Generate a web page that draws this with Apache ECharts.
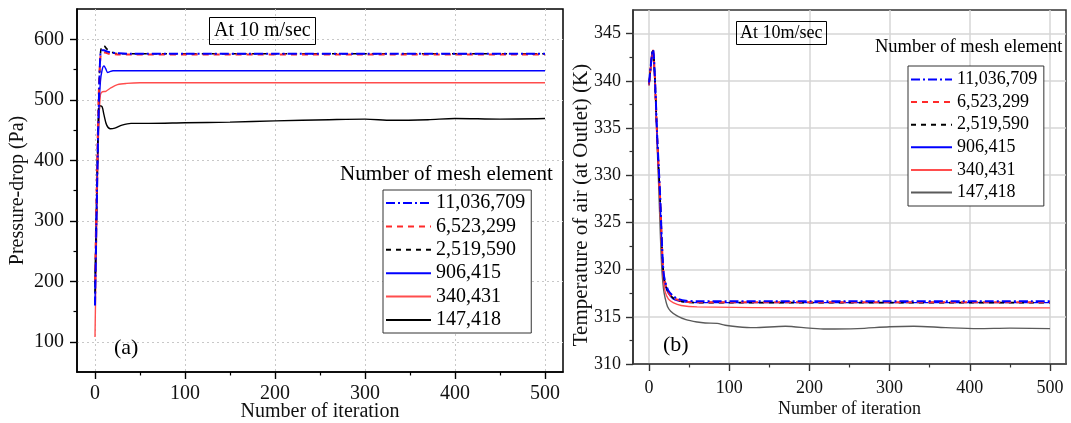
<!DOCTYPE html>
<html>
<head>
<meta charset="utf-8">
<script src="https://cdn.jsdelivr.net/npm/echarts@6.0.0/dist/echarts.min.js"></script>
<style>
html,body{margin:0;padding:0;background:#fff;}
#chart{width:1071px;height:423px;}
</style>
</head>
<body>
<div id="chart"></div>
<script>
// ---------- DATA ----------
const seriesNames = ['11,036,709', '6,523,299', '2,519,590', '906,415', '340,431', '147,418'];

// (a) Pressure-drop (Pa) vs iteration  [iteration, value]
const press_11036709 = [[0,160],[2,330],[4,480],[6,575],[8,582],[10,582],[13,580],[18,578],[25,577],[40,576],[100,576],[200,576],[300,576],[400,576],[500,576]];
const press_6523299  = [[0,200],[2,360],[4,500],[6,570],[8,578],[11,578],[16,576],[25,575],[40,575],[100,575],[300,575],[500,575]];
const press_2519590  = [[0,180],[2,340],[4,490],[6,575],[8,589],[10,589],[13,584],[17,580],[22,577],[30,576],[100,576],[300,576],[500,576]];
const press_906415   = [[0,165],[2,330],[4,470],[6,530],[8,550],[10,556],[12,551],[14,545],[16,546],[20,548],[30,548],[100,548],[300,548],[500,548]];
const press_340431   = [[0,108],[2,300],[4,450],[6,508],[8,513],[12,514],[18,520],[25,525],[35,527],[50,528],[100,528],[300,528],[500,528]];
const press_147418   = [[0,190],[2,350],[4,460],[6,490],[8,488],[10,475],[13,458],[17,452],[22,453],[30,458],[40,461],[60,461],[100,462],[150,463],[200,465],[260,467],[300,468],[330,466],[370,467],[400,469],[450,468],[500,469]];

// (b) Temperature of air at outlet (K) vs iteration
const temp_11036709 = [[0,339.8],[2,341.5],[4,343],[5,343.3],[6,342.6],[8,339],[10,334.5],[12,331],[14,327.5],[16,323],[18,319.8],[20,318.8],[24,317.8],[30,317.2],[36,316.9],[46,316.7],[60,316.65],[200,316.65],[500,316.65]];
const temp_6523299  = [[0,339.7],[2,341.4],[4,343],[5,343.2],[6,342.5],[8,338.8],[10,334.3],[12,330.8],[14,327.2],[16,322.8],[18,319.6],[20,318.6],[24,317.6],[30,317.0],[36,316.8],[46,316.6],[60,316.55],[200,316.55],[500,316.55]];
const temp_2519590  = [[0,339.7],[2,341.4],[4,343],[5,343.2],[6,342.5],[8,338.8],[10,334.3],[12,330.8],[14,327.2],[16,322.8],[18,319.6],[20,318.6],[24,317.6],[30,317.0],[36,316.75],[46,316.55],[60,316.5],[200,316.5],[500,316.5]];
const temp_906415   = [[0,339.6],[2,341.4],[4,343],[5,343.2],[6,342.4],[8,338.6],[10,334.2],[12,330.6],[14,327],[16,322.6],[18,319.4],[20,318.4],[24,317.5],[30,316.9],[36,316.7],[46,316.55],[60,316.5],[200,316.5],[500,316.5]];
const temp_340431   = [[0,339.5],[2,341.3],[4,342.9],[5,343.1],[6,342.3],[8,338.4],[10,333.8],[12,330],[14,326],[16,321.8],[18,318.9],[20,317.7],[24,316.9],[30,316.5],[40,316.2],[60,316.05],[200,315.95],[500,315.95]];
const temp_147418   = [[0,339.5],[2,341.3],[4,343],[5,343.2],[6,342.3],[8,338.5],[10,333.5],[12,329],[14,324],[16,320],[18,318],[20,317],[23,316.1],[27,315.6],[35,315.1],[46,314.7],[60,314.45],[70,314.35],[85,314.3],[95,314.1],[110,313.95],[130,313.85],[170,314.0],[200,313.8],[220,313.7],[260,313.75],[300,313.95],[330,314.0],[370,313.85],[410,313.75],[450,313.8],[500,313.75]];

// tick values
const xMajorTicks = [0, 100, 200, 300, 400, 500];
const xMinorTicks = [50, 150, 250, 350, 450];
const pressMajorTicks = [100, 200, 300, 400, 500, 600];
const pressMinorTicks = [150, 250, 350, 450, 550];
const tempMajorTicks = [310, 315, 320, 325, 330, 335, 340, 345];
const tempMinorTicks = [312.5, 317.5, 322.5, 327.5, 332.5, 337.5, 342.5];

// ---------- STYLE ----------
const FONT = '"Liberation Serif", "Times New Roman", serif';
const styles = {
  '11,036,709': {color: '#0000ff', type: [9, 3, 2, 3], width: 2},
  '6,523,299':  {color: '#ff2a2a', type: [6, 5], width: 2},
  '2,519,590':  {color: '#000000', type: [5, 5], width: 1.6},
  '906,415':    {color: '#0000ff', type: 'solid', width: 1.4},
  '340,431':    {color: '#ff4d4d', type: 'solid', width: 1.4},
  '147,418':    {color: '#000000', type: 'solid', width: 1.4}
};
const pressData = {
  '11,036,709': press_11036709, '6,523,299': press_6523299, '2,519,590': press_2519590,
  '906,415': press_906415, '340,431': press_340431, '147,418': press_147418
};
const tempData = {
  '11,036,709': temp_11036709, '6,523,299': temp_6523299, '2,519,590': temp_2519590,
  '906,415': temp_906415, '340,431': temp_340431, '147,418': temp_147418
};

// right chart uses a trailing space so that its legend is independent
const rightName = n => n + ' ';

const series = [];
const drawOrder = seriesNames.slice().reverse();
drawOrder.forEach(n => {
  const s = styles[n];
  series.push({
    name: n, type: 'line', xAxisIndex: 0, yAxisIndex: 0,
    data: pressData[n], symbol: 'none', showSymbol: false, smooth: 0.3,
    lineStyle: {color: s.color, type: s.type, width: s.width},
    itemStyle: {color: s.color}
  });
});
drawOrder.forEach(n => {
  const s = styles[n];
  const col = n === '147,418' ? '#5a5a5a' : s.color;
  series.push({
    name: rightName(n), type: 'line', xAxisIndex: 2, yAxisIndex: 2,
    data: tempData[n], symbol: 'none', showSymbol: false, smooth: 0.3,
    lineStyle: {color: col, type: s.type, width: s.width},
    itemStyle: {color: col}
  });
});

function majorAxis(gridIndex, min, max, ticks, opts) {
  return Object.assign({
    type: 'value', gridIndex: gridIndex, min: min, max: max,
    axisLine: {show: true, onZero: false, lineStyle: {color: opts.lineColor, width: 1.6}},
    axisTick: {show: true, customValues: ticks, length: 7, inside: false, lineStyle: {color: opts.lineColor, width: 1.4}},
    axisLabel: {show: true, customValues: ticks, fontSize: opts.fontSize, fontFamily: FONT, color: '#111', margin: opts.margin},
    splitLine: {show: true, lineStyle: opts.split},
    nameLocation: 'middle',
    nameMoveOverlap: false,
    nameTextStyle: Object.assign({fontSize: opts.nameSize, fontFamily: FONT, color: '#111'}, opts.nameExtra || {})
  }, opts.extra || {});
}
function minorAxis(gridIndex, min, max, ticks, position, lineColor) {
  return {
    type: 'value', gridIndex: gridIndex, min: min, max: max, position: position,
    axisLine: {show: false, onZero: false},
    axisTick: {show: true, customValues: ticks, length: 3.5, inside: false, lineStyle: {color: lineColor, width: 1.2}},
    axisLabel: {show: false},
    splitLine: {show: false}
  };
}

const leftSplit = {color: '#c8c8c8', type: [2, 3], width: 1};
const rightSplit = {color: '#d6d6d6', type: 'solid', width: 1.5};

const option = {
  animation: false,
  backgroundColor: '#ffffff',
  grid: [
    {left: 77, top: 9, right: 508, bottom: 51, show: true, borderColor: '#000', borderWidth: 1.5, backgroundColor: 'transparent',
      containLabel: false, outerBoundsMode: 'none'},
    {left: 633, top: 10, right: 5, bottom: 59, show: true, borderColor: '#333', borderWidth: 1.5, backgroundColor: 'transparent',
      containLabel: false, outerBoundsMode: 'none'}
  ],
  xAxis: [
    majorAxis(0, -20, 520, xMajorTicks, {lineColor: '#000', fontSize: 20, margin: 12, nameSize: 20, split: leftSplit,
      extra: {position: 'bottom', name: 'Number of iteration', nameGap: 30}}),
    minorAxis(0, -20, 520, xMinorTicks, 'bottom', '#000'),
    majorAxis(1, -20, 520, xMajorTicks, {lineColor: '#333', fontSize: 18, margin: 15, nameSize: 18, split: rightSplit,
      extra: {position: 'bottom', name: 'Number of iteration', nameGap: 36}}),
    minorAxis(1, -20, 520, xMinorTicks, 'bottom', '#333')
  ],
  yAxis: [
    majorAxis(0, 50, 650, pressMajorTicks, {lineColor: '#000', fontSize: 20, margin: 13, nameSize: 20, split: leftSplit,
      extra: {position: 'left', name: 'Pressure-drop (Pa)', nameGap: 49}}),
    minorAxis(0, 50, 650, pressMinorTicks, 'left', '#000'),
    majorAxis(1, 310, 347.5, tempMajorTicks, {lineColor: '#333', fontSize: 18, margin: 12, nameSize: 21, split: rightSplit,
      nameExtra: {padding: [0, 36, 0, 0]},
      extra: {position: 'left', name: 'Temperature of air (at Outlet) (K)', nameGap: 41}}),
    minorAxis(1, 310, 347.5, tempMinorTicks, 'left', '#333')
  ],
  title: [
    {text: 'At 10 m/sec', left: 209, top: 17, padding: [4, 5, 4, 5], borderColor: '#000', borderWidth: 1,
      textStyle: {fontSize: 20, fontWeight: 'normal', fontFamily: FONT, color: '#000'}},
    {text: '(a)', left: 114, top: 337, padding: 0, textStyle: {fontSize: 22, fontWeight: 'normal', fontFamily: FONT, color: '#000'}},
    {text: 'Number of mesh element', left: 340, top: 164, padding: 0, textStyle: {fontSize: 21, fontWeight: 'normal', fontFamily: FONT, color: '#000'}},
    {text: 'At 10m/sec', left: 736, top: 21, padding: [3, 4, 3, 4], borderColor: '#000', borderWidth: 1,
      textStyle: {fontSize: 18, fontWeight: 'normal', fontFamily: FONT, color: '#000'}},
    {text: '(b)', left: 663, top: 334, padding: 0, textStyle: {fontSize: 22, fontWeight: 'normal', fontFamily: FONT, color: '#000'}},
    {text: 'Number of mesh element', left: 875, top: 38, padding: 0, textStyle: {fontSize: 18.5, fontWeight: 'normal', fontFamily: FONT, color: '#000'}}
  ],
  legend: [
    {orient: 'vertical', left: 383, top: 190, padding: [3, 6, 3, 2], itemWidth: 45, itemHeight: 14, itemGap: 3.4,
      borderColor: '#333', borderWidth: 1, backgroundColor: '#fff', selectedMode: false,
      itemStyle: {opacity: 0},
      textStyle: {fontSize: 20, lineHeight: 20, fontFamily: FONT, color: '#000'},
      data: seriesNames},
    {orient: 'vertical', left: 908, top: 66, padding: [4, 2, 4, 2], itemWidth: 41, itemHeight: 14, itemGap: 3.6,
      borderColor: '#333', borderWidth: 1, backgroundColor: '#fff', selectedMode: false,
      itemStyle: {opacity: 0},
      textStyle: {fontSize: 18, lineHeight: 19, fontFamily: FONT, color: '#000'},
      data: seriesNames.map(rightName)}
  ],
  series: series
};

const chart = echarts.init(document.getElementById('chart'), null, {renderer: 'canvas'});
chart.setOption(option);
</script>
</body>
</html>
